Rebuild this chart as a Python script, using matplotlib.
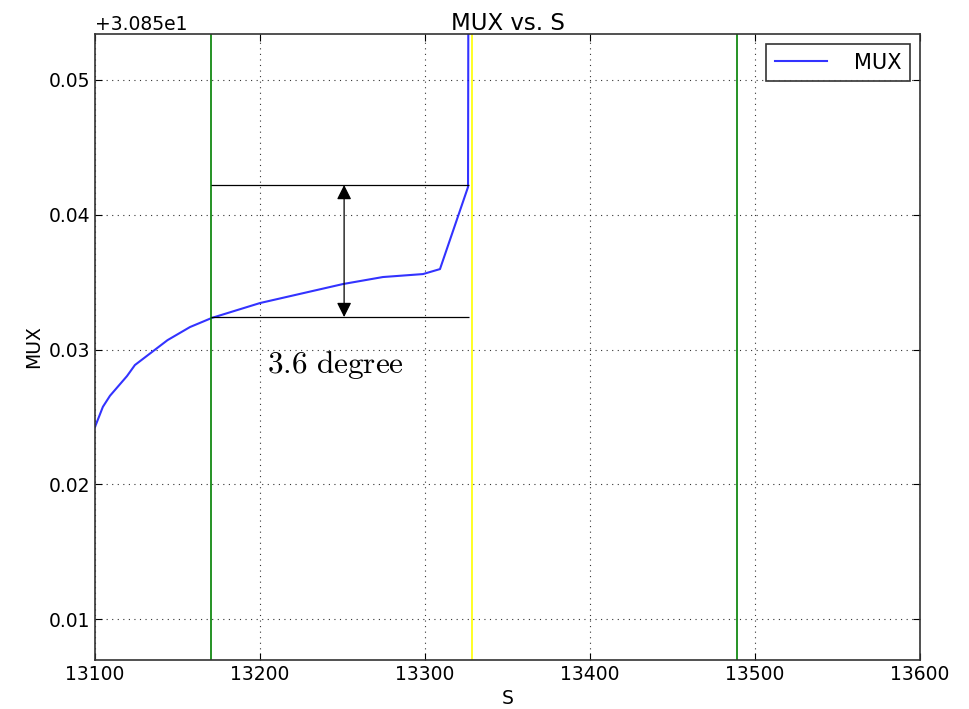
import matplotlib.pyplot as plt

plt.rcParams['font.family'] = 'DejaVu Sans'
plt.rcParams['mathtext.fontset'] = 'cm'

# MUX curve
s = [13100, 13104.8, 13109.1, 13119.4, 13124.2, 13144.0, 13157.6, 13170.9,
     13200, 13250.3, 13274.5, 13298.8, 13309.1, 13326.1, 13326.5]
mux = [30.87425, 30.87575, 30.87657, 30.87803, 30.87885, 30.88070, 30.88167, 30.88235,
       30.88345, 30.88486, 30.88538, 30.88560, 30.88597, 30.89206, 30.92]

green_s = [13170.3, 13489.1]
yellow_s = 13328.5
level_hi = 30.89221
level_lo = 30.88241
arrow_s = 13251

fig = plt.figure(figsize=(9.69, 7.09), dpi=100)
ax = fig.add_axes([0.098, 0.069, 0.8514, 0.883])

ax.plot(s, mux, color='#0000ff', lw=1.5, label='MUX', alpha=0.8)
for g in green_s:
    ax.axvline(g, color='green', lw=1.2)
ax.axvline(yellow_s, color='yellow', lw=1.2)

ax.hlines([level_hi, level_lo], green_s[0], 13326.5, color='black', lw=0.9)
ax.annotate('', xy=(arrow_s, level_lo), xytext=(arrow_s, level_hi),
            arrowprops=dict(arrowstyle='<|-|>', color='black', lw=0.9,
                            mutation_scale=22, shrinkA=0, shrinkB=0))
ax.text(13246, 30.87885, r'$3.6\ \mathrm{degree}$', fontsize=22.5,
        ha='center', va='center')

ax.set_xlim(13100, 13600)
ax.set_ylim(30.85696, 30.90341)
ax.set_yticks([30.86, 30.87, 30.88, 30.89, 30.90])
ax.ticklabel_format(axis='y', useOffset=30.85)
ax.grid(True, color='black', linestyle=(0, (1, 4)), lw=0.8, alpha=0.8)
ax.tick_params(direction='in', top=True, right=True, labelsize=13.5, length=5)
for sp in ax.spines.values():
    sp.set_linewidth(1.2)
    sp.set_color('#333333')
ax.yaxis.get_offset_text().set_fontsize(13.5)

ax.set_title('MUX vs. S', fontsize=16.5, pad=3)
ax.set_xlabel('S', fontsize=13.5)
ax.set_ylabel('MUX', fontsize=13.5)
leg = ax.legend(loc='upper right', fancybox=False, fontsize=15, borderpad=0.4,
                handlelength=2.5, handletextpad=1.3)
leg.get_frame().set_edgecolor('black')
leg.get_frame().set_linewidth(1.2)

fig.savefig('out.png', dpi=100)
